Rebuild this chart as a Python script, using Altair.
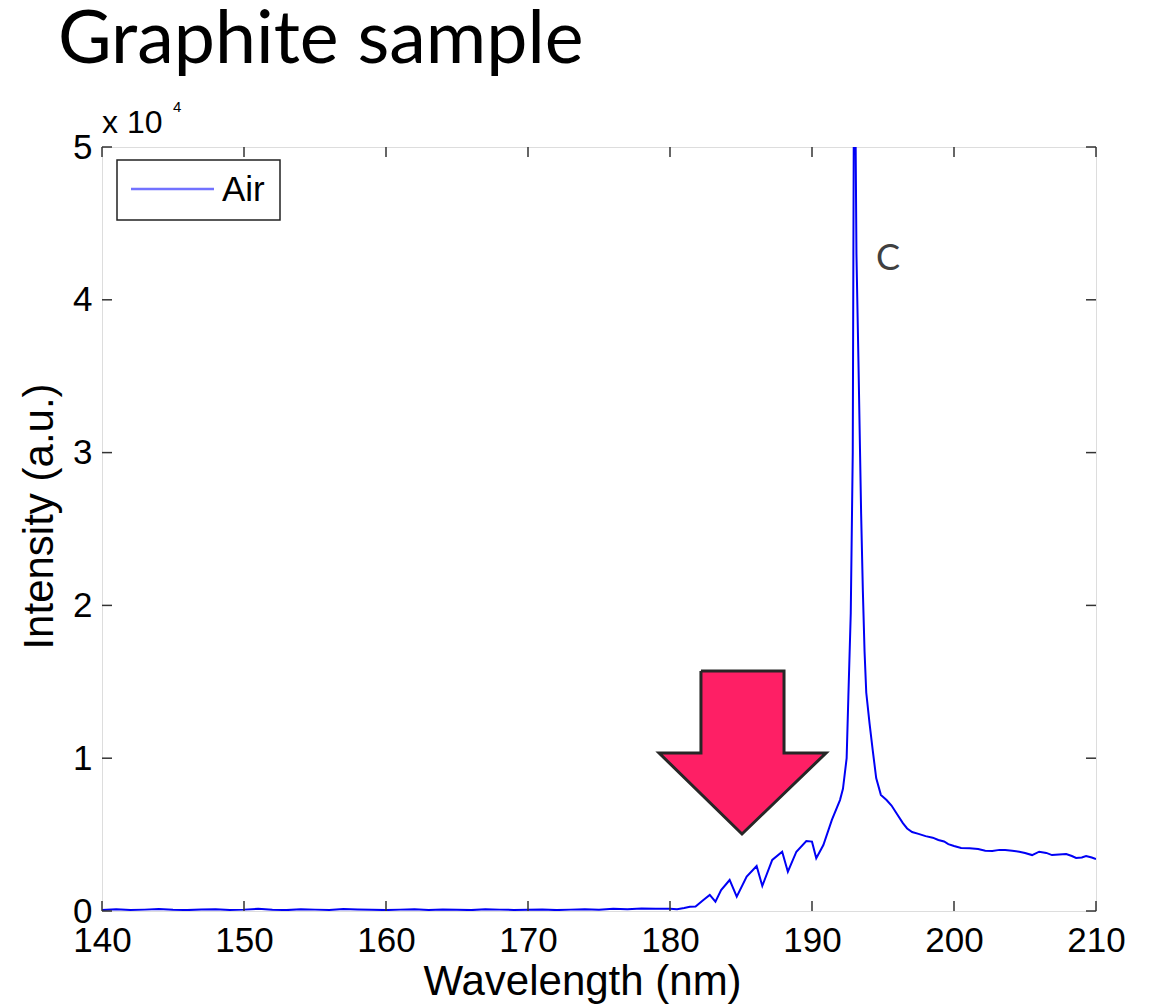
import altair as alt
import pandas as pd

# ---- data ----
base_wl = list(range(140, 180))
base_int = [60, 110, 70, 90, 130, 80, 60, 100, 120, 70, 90, 140, 80, 60, 110, 90, 70, 130, 100, 80,
            60, 90, 120, 70, 100, 80, 60, 110, 90, 70, 80, 100, 60, 90, 120, 80, 150, 110, 170, 140]
peak_wl = [180.0, 180.5, 181.0, 181.4, 181.8, 182.35, 182.8, 183.2, 183.6, 184.2, 184.7, 185.4, 186.1,
           186.5, 187.2, 187.9, 188.3, 188.9, 189.6, 190.0, 190.3, 190.8, 191.4, 191.97, 192.18, 192.44,
           192.56, 192.73, 192.87, 192.98, 193.13, 193.27, 193.46, 193.58, 193.7, 193.82, 194.05, 194.28,
           194.52, 194.85, 195.25, 195.6, 195.95, 196.4, 196.7, 197.05, 197.5, 198.0, 198.5, 198.9, 199.3,
           199.6, 200.0, 200.5, 201.1, 201.7, 202.2, 202.7, 203.2, 203.6, 204.1, 204.6, 205.0, 205.5, 206.0,
           206.5, 206.9, 207.4, 207.9, 208.3, 208.6, 209.0, 209.3, 209.7, 210.0]
peak_int = [150, 120, 200, 280, 300, 720, 1050, 610, 1370, 2030, 940, 2250, 2940,
            1640, 3340, 3880, 2570, 3880, 4580, 4540, 3450, 4320, 5960, 7260, 8000, 10000,
            14000, 19500, 30000, 62000, 43000, 36000, 26000, 21000, 17000, 14300, 12300, 10500,
            8700, 7600, 7260, 6900, 6400, 5750, 5400, 5170, 5050, 4900, 4800, 4650, 4550,
            4380, 4250, 4120, 4100, 4060, 3950, 3930, 4000, 3990, 3950, 3880, 3800, 3660, 3880,
            3800, 3660, 3700, 3730, 3600, 3470, 3500, 3600, 3500, 3400]

x_ticks = [140, 150, 160, 170, 180, 190, 200, 210]
y_ticks = [0, 10000, 20000, 30000, 40000, 50000]
series_name = "Air"

# arrow annotation outline (data coordinates)
arrow_x = [182.18, 188.03, 188.03, 190.99, 185.07, 179.23, 182.18, 182.18]
arrow_y = [15700, 15700, 10340, 10340, 5040, 10340, 10340, 15700]

df = pd.DataFrame({"wl": base_wl + peak_wl, "I": base_int + peak_int})
df["series"] = series_name
df["order"] = range(len(df))

W, H = 994, 764
FONT = "Liberation Sans"
LINE_COLOR = "#0000f5"

xs = alt.Scale(domain=[140, 210], nice=False, zero=False)
ys = alt.Scale(domain=[0, 50000], nice=False)

xaxis = alt.Axis(values=x_ticks, tickSize=0, domain=False, grid=False, labelFont=FONT,
                 labelFontSize=35, labelColor="black", labelPadding=12, labelFlush=False,
                 title="Wavelength (nm)", titleFont=FONT, titleFontSize=42,
                 titleFontWeight="normal", titleColor="black", titlePadding=3, titleX=480)
yaxis = alt.Axis(values=y_ticks, tickSize=0, domain=False, grid=False, labelFont=FONT,
                 labelFontSize=35, labelColor="black", labelPadding=10, labelFlush=False,
                 labelExpr="datum.value / 10000",
                 title="Intensity (a.u.)", titleFont=FONT, titleFontSize=42,
                 titleFontWeight="normal", titleColor="black", titlePadding=11, titleY=369)

line = alt.Chart(df).mark_line(strokeWidth=2, clip=True, color=LINE_COLOR).encode(
    x=alt.X("wl:Q", scale=xs, axis=xaxis),
    y=alt.Y("I:Q", scale=ys, axis=yaxis),
    order="order:Q",
    detail="series:N",
)

# arrow: shaft + head + outline
shaft_df = pd.DataFrame({"x": [arrow_x[0]], "x2": [arrow_x[1]], "y": [arrow_y[0]], "y2": [arrow_y[2]]})
shaft = alt.Chart(shaft_df).mark_rect(color="#fe1f65").encode(
    x=alt.X("x:Q", scale=xs), x2="x2:Q", y=alt.Y("y:Q", scale=ys), y2="y2:Q")
head_df = pd.DataFrame({"x": [arrow_x[5], arrow_x[4], arrow_x[3]],
                        "y": [arrow_y[5], arrow_y[5], arrow_y[3]],
                        "y2": [arrow_y[5], arrow_y[4], arrow_y[3]]})
head = alt.Chart(head_df).mark_area(color="#fe1f65", opacity=1).encode(
    x=alt.X("x:Q", scale=xs), y=alt.Y("y:Q", scale=ys), y2="y2:Q")
outline_df = pd.DataFrame({"x": arrow_x + [arrow_x[0]], "y": arrow_y + [arrow_y[0]],
                           "o": list(range(len(arrow_x) + 1))})
outline = alt.Chart(outline_df).mark_line(color="#262626", strokeWidth=3, strokeJoin="miter").encode(
    x=alt.X("x:Q", scale=xs), y=alt.Y("y:Q", scale=ys), order="o:Q")

# inward ticks (box style)
xt = pd.DataFrame({"v": x_ticks})
yt = pd.DataFrame({"v": y_ticks})
tick_color = "#333"
xb = alt.Chart(xt).mark_rule(color=tick_color, strokeWidth=1.5).encode(
    x=alt.X("v:Q", scale=xs), y=alt.value(H), y2=alt.value(H - 10))
xtop = alt.Chart(xt).mark_rule(color=tick_color, strokeWidth=1.5).encode(
    x=alt.X("v:Q", scale=xs), y=alt.value(0), y2=alt.value(10))
yl = alt.Chart(yt).mark_rule(color=tick_color, strokeWidth=1.5).encode(
    y=alt.Y("v:Q", scale=ys), x=alt.value(0), x2=alt.value(10))
yr = alt.Chart(yt).mark_rule(color=tick_color, strokeWidth=1.5).encode(
    y=alt.Y("v:Q", scale=ys), x=alt.value(W), x2=alt.value(W - 10))

# legend box (MATLAB style)
leg_df = pd.DataFrame({"t": [series_name]})
leg_box = alt.Chart(leg_df).mark_rect(fill="white", stroke="#222", strokeWidth=1.5).encode(
    x=alt.value(15), x2=alt.value(178), y=alt.value(13), y2=alt.value(73))
leg_line = alt.Chart(leg_df).mark_rule(color="#7272ff", strokeWidth=2.5).encode(
    x=alt.value(29), x2=alt.value(112), y=alt.value(42))
leg_text = alt.Chart(leg_df).mark_text(font=FONT, fontSize=35, align="left", baseline="middle",
                                       color="black").encode(
    x=alt.value(120), y=alt.value(43), text="t:N")

# texts
c_df = pd.DataFrame({"x": [195.35], "y": [42700], "t": ["C"]})
c_label = alt.Chart(c_df).mark_text(font="Lato", fontSize=36, color="#404040", baseline="middle").encode(
    x=alt.X("x:Q", scale=xs), y=alt.Y("y:Q", scale=ys), text="t:N")

exp_main = alt.Chart(pd.DataFrame({"t": ["x 10"]})).mark_text(
    font=FONT, fontSize=32, align="left", baseline="alphabetic", color="black").encode(
    x=alt.value(0), y=alt.value(-14), text="t:N")
exp_sup = alt.Chart(pd.DataFrame({"t": ["4"]})).mark_text(
    font=FONT, fontSize=15, align="left", baseline="alphabetic", color="black").encode(
    x=alt.value(71), y=alt.value(-35), text="t:N")
title = alt.Chart(pd.DataFrame({"t": ["Graphite sample"]})).mark_text(
    font="Lato", fontSize=73.5, align="left", baseline="alphabetic", color="black").encode(
    x=alt.value(-44), y=alt.value(-84), text="t:N")

chart = alt.layer(line, shaft, head, outline, xb, xtop, yl, yr, leg_box, leg_line, leg_text,
                  c_label, exp_main, exp_sup, title).properties(
    width=W, height=H,
    autosize=alt.AutoSizeParams(type="none"),
    padding={"left": 94, "top": 139, "right": 50, "bottom": 95},
).configure_view(stroke="#444", strokeWidth=2).configure(background="white")

chart.save("out.html", embed_options={"renderer": "svg", "actions": False})
